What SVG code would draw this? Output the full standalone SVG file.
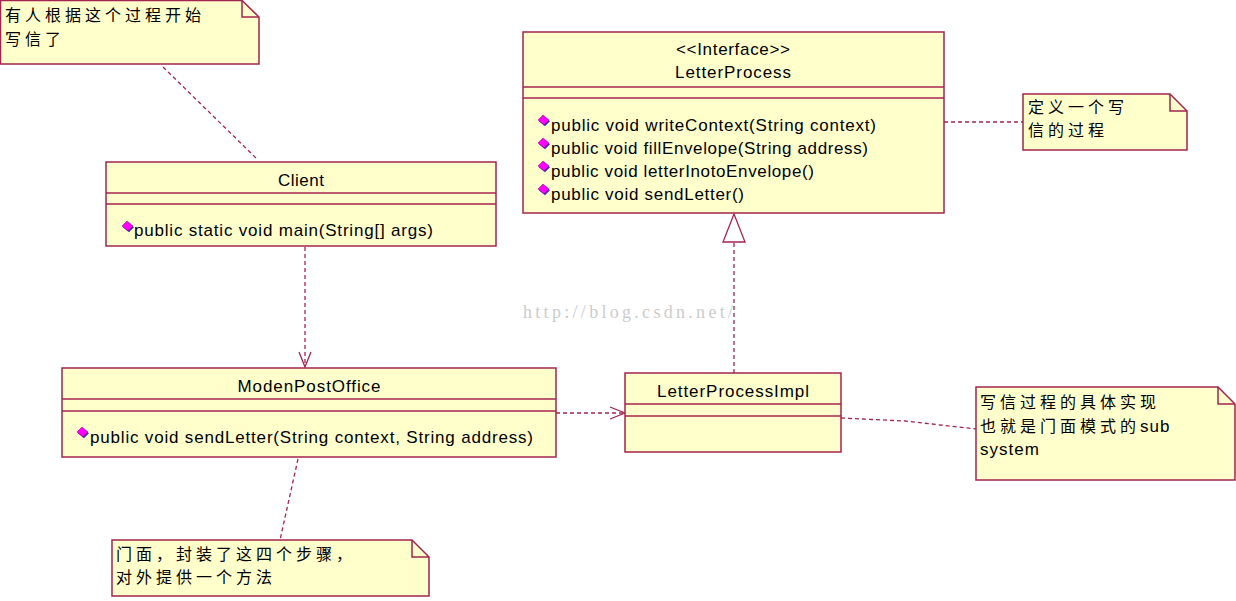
<svg xmlns="http://www.w3.org/2000/svg" width="1236" height="601" viewBox="0 0 1236 601">
<defs>
<style>
.box{fill:#ffffcc;stroke:#a3254f;stroke-width:1.5}
.sep{stroke:#a3254f;stroke-width:1.5;fill:none}
.t{font-family:"Liberation Sans",Arial,sans-serif;font-size:17px;fill:#000}
.c{text-anchor:middle}
.cn{font-family:"Noto Sans CJK SC","Liberation Sans",sans-serif;font-size:16px;fill:#000;letter-spacing:4px}
.lat{font-family:"Liberation Sans",Arial,sans-serif;font-size:17px;letter-spacing:1px}
.dash{stroke:#a3254f;stroke-width:1.3;fill:none;stroke-dasharray:4 3}
.arr{stroke:#a3254f;stroke-width:1.3;fill:none}
.wm{font-family:"Liberation Serif","Times New Roman",serif;font-size:18px;fill:#cccccc}
</style>
<g id="icon">
<polygon points="0,-5 6,0 1,5 -5,0" fill="#3333aa" transform="translate(1,1.2)"/>
<polygon points="0,-5 6,0 1,5 -5,0" fill="#ff00ff" stroke="#800080" stroke-width="0.5"/>
</g>
</defs>
<rect width="1236" height="601" fill="#ffffff"/>

<text class="wm" x="523" y="318" textLength="210" lengthAdjust="spacing">http://blog.csdn.net/</text>

<g id="connectors">
<line class="dash" x1="163" y1="67" x2="256" y2="158"/>
<line class="dash" x1="305" y1="247" x2="305" y2="366"/>
<polyline class="arr" points="299,352 305,367 311,352"/>
<line class="dash" x1="556" y1="413" x2="623" y2="413"/>
<polyline class="arr" points="610,407 625,413 610,419"/>
<line class="dash" x1="734" y1="373" x2="734" y2="242"/>
<polygon points="734,214 723,242 745,242" fill="#ffffff" stroke="#a3254f" stroke-width="1.3"/>
<line class="dash" x1="944" y1="122" x2="1023" y2="122"/>
<polyline class="dash" points="841,418 905,421 976,429"/>
<line class="dash" x1="298" y1="459" x2="280" y2="540"/>
</g>

<g id="note-client">
<path class="box" d="M0.5,0.5 H242 L259,17 V64 H0.5 Z"/>
<path class="sep" d="M242,0.5 V17 H259"/>
<text class="cn" x="5" y="21">有人根据这个过程开始</text>
<text class="cn" x="5" y="44.5">写信了</text>
</g>

<g id="client">
<rect class="box" x="106" y="162" width="390" height="84"/>
<line class="sep" x1="106" y1="193" x2="496" y2="193"/>
<line class="sep" x1="106" y1="204" x2="496" y2="204"/>
<text class="t c" x="301" y="186" textLength="46" lengthAdjust="spacing">Client</text>
<use href="#icon" x="127" y="226"/>
<text class="t" x="134" y="236" textLength="299" lengthAdjust="spacing">public static void main(String[] args)</text>
</g>

<g id="letterprocess">
<rect class="box" x="523" y="32" width="421" height="181"/>
<line class="sep" x1="523" y1="87" x2="944" y2="87"/>
<line class="sep" x1="523" y1="98" x2="944" y2="98"/>
<text class="t c" x="733" y="55" textLength="114" lengthAdjust="spacing">&lt;&lt;Interface&gt;&gt;</text>
<text class="t c" x="733" y="78" textLength="116" lengthAdjust="spacing">LetterProcess</text>
<use href="#icon" x="543" y="120"/>
<text class="t" x="551" y="131" textLength="325" lengthAdjust="spacing">public void writeContext(String context)</text>
<use href="#icon" x="543" y="143"/>
<text class="t" x="551" y="154" textLength="317" lengthAdjust="spacing">public void fillEnvelope(String address)</text>
<use href="#icon" x="543" y="166"/>
<text class="t" x="551" y="177" textLength="263" lengthAdjust="spacing">public void letterInotoEnvelope()</text>
<use href="#icon" x="543" y="189"/>
<text class="t" x="551" y="200" textLength="193" lengthAdjust="spacing">public void sendLetter()</text>
</g>

<g id="note-letterprocess">
<path class="box" d="M1023,94 H1170 L1187,111 V150 H1023 Z"/>
<path class="sep" d="M1170,94 V111 H1187"/>
<text class="cn" x="1028" y="112.5">定义一个写</text>
<text class="cn" x="1028" y="136">信的过程</text>
</g>

<g id="modenpostoffice">
<rect class="box" x="62" y="368" width="494" height="89"/>
<line class="sep" x1="62" y1="399" x2="556" y2="399"/>
<line class="sep" x1="62" y1="411" x2="556" y2="411"/>
<text class="t c" x="309" y="392" textLength="143" lengthAdjust="spacing">ModenPostOffice</text>
<use href="#icon" x="82" y="432"/>
<text class="t" x="90" y="443" textLength="443" lengthAdjust="spacing">public void sendLetter(String context, String address)</text>
</g>

<g id="letterprocessimpl">
<rect class="box" x="625" y="373" width="216" height="79"/>
<line class="sep" x1="625" y1="404" x2="841" y2="404"/>
<line class="sep" x1="625" y1="416" x2="841" y2="416"/>
<text class="t c" x="733" y="397" textLength="152" lengthAdjust="spacing">LetterProcessImpl</text>
</g>

<g id="note-impl">
<path class="box" d="M976,387 H1218 L1235,404 V480 H976 Z"/>
<path class="sep" d="M1218,387 V404 H1235"/>
<text class="cn" x="980" y="408">写信过程的具体实现</text>
<text class="cn" x="980" y="431.5">也就是门面模式的<tspan class="lat">sub</tspan></text>
<text class="cn" x="980" y="455"><tspan class="lat">system</tspan></text>
</g>

<g id="note-facade">
<path class="box" d="M112,540 H412 L429,557 V596 H112 Z"/>
<path class="sep" d="M412,540 V557 H429"/>
<text class="cn" x="116" y="559.5">门面，封装了这四个步骤，</text>
<text class="cn" x="116" y="583">对外提供一个方法</text>
</g>
</svg>
